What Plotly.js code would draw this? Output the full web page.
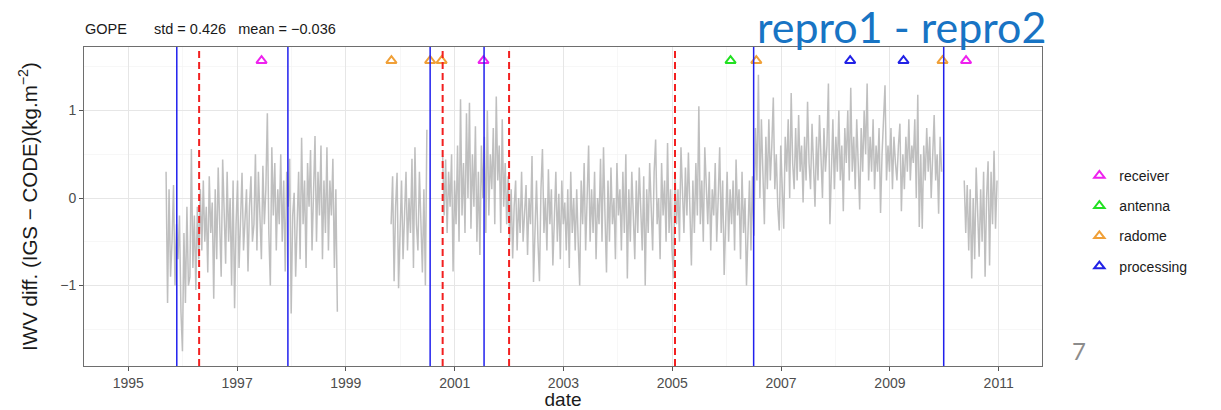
<!DOCTYPE html>
<html>
<head>
<meta charset="utf-8">
<script src="https://cdn.plot.ly/plotly-3.0.1.min.js"></script>
<style>html,body{margin:0;padding:0;background:#fff;}#chart{width:1221px;height:410px;}</style>
</head>
<body>
<div id="chart"></div>
<script>
// ---- data ----
const stepDays = 10;
const seg1Start = '1995-09-12';
const seg1Values = [0.3,-1.2,0.1,-0.9, -0.5,0.15,-1.0,-0.3, -0.7,-0.2,-1.3,-1.75,-0.4,-1.2,-0.1,-1.0,
 -0.9,0.56,-0.8,-0.2,-1.05,-0.1,-0.7, 0.1,-0.6,0.2,-0.5,-0.1,-0.85,0.25,-0.4,-0.05,-1.15,0.1,
 -0.7,0.35,-0.3,-0.9,0.44,-0.2,-0.75,0.3,-0.5,0.0,-1.0,0.2,-1.26,-0.3,
 0.2,-0.8,-0.1,0.29,-0.6,-0.2,0.1,-0.84,-0.1,0.25,-0.5,-0.3,0.5,
 -0.6,0.3,-0.2,-0.7,0.37,-0.3,0.1,0.97,-0.4,
 -1.0,0.58,-0.2,0.4,-0.6,0.1,-0.3,0.5,-0.5,0.2,-0.84,0.3,-0.1,0.45,
 -1.32,-0.2,0.06,-0.9,-0.4,0.3,-0.7,
 0.69,-0.3,0.2,-0.8,0.4,-0.1,0.55,-0.6,0.1,0.71,-0.5,0.3,-0.2,0.6,-0.7,0.2,
 -0.4,0.58,-0.6,0.2,-0.2,0.45,-0.8,0.1,-1.3];
const seg2aStart = '1999-11-01';
const seg2aValues = [-0.3,0.25,-0.95,-0.1,0.29,-1.03,-0.4,0.2,-0.7,-0.1,0.3,-0.6,0.0,-0.4,0.45,-0.8,0.58,-0.3,-0.6,0.3,-0.2,-0.85,0.1,-1.0,0.78];
const seg2bStart = '2000-10-12';
const seg2bValues = [
 0.48,-0.2,0.44,-0.4,0.3,-0.1,0.5,-0.84, 0.2,-0.3,0.6,-0.5,1.13,-0.2,0.4,-0.4,
 0.97,0.0,1.09,-0.35,0.5,-0.1,0.82,-0.5, 0.3,-0.65,0.6,0.0,0.7,-0.4,1.0,-0.2,
 0.5,0.1,0.8,-0.3,1.16,0.2,0.6,-0.4, 0.9,-0.1,0.4,-0.3,
 0.25,-0.5,0.1,-0.69,-0.1,0.2,-0.6,0.0,-0.4,0.3,-0.5,-0.1,0.15,-0.65,0.0,-0.3,
 0.48,-0.96,-0.2,0.2,-0.5,-0.95,0.1,0.56,-0.4,
 0.0,-0.6,0.33,-0.3,0.1,-0.77,-0.1,0.3,-0.5,0.05,-0.7,0.2,-0.3,-0.05,-0.6,0.1,
 -0.8,0.3,-0.4,0.0,-0.6,0.1,-0.5,-1.0,0.2,-0.3,0.4,-0.6,0.0,0.6,-0.5,0.1,
 -0.4,0.3,-0.7,0.0,-0.3,0.45,-0.5,0.58,-0.2,-0.85,0.2,-0.5,0.35,-0.3,0.0,-0.7,0.4,-0.2,0.1,-0.6,
 0.3,-0.4,0.5,-0.92,0.1,-0.5,0.3,-0.2,-0.7,0.2,-0.4,0.35,-0.1,-0.6,0.25,
 -1.0,0.1,-0.4,0.4,-0.2,-0.6,0.3,0.67,-0.3,0.0,-0.7,0.4,-0.2,0.2,-0.5,0.63,-0.4,0.1,-0.6,-0.92,
 0.3,-0.3,0.1,-0.5,0.58,0.0,-0.4,0.35,-0.2,0.52,
 -0.1,-0.77,0.2,-0.4,0.4,-0.2,1.05,-0.3,0.2,-0.5,
 0.58,0.0,-0.3,0.3,-0.6,0.1,-0.2,0.4,-0.5,0.0,
 0.58,-0.4,0.2,-0.88,-0.1,0.3,-0.5,0.1,-0.3,0.2,
 -0.6,0.44,-0.2,0.1,-0.7,0.3,-0.4,0.0,-1.0,-0.3,0.2,-0.6,0.25,
 -0.43,0.8,0.2,1.41,0.0,0.9,0.3,-0.3,0.7,0.1,
 0.9,0.2,0.6,1.15,0.1,0.5,-0.1,-0.37,0.6,0.2,
 -0.35,0.7,0.3,0.9,0.0,1.2,0.4,0.1,0.8,0.2,
 0.95,0.3,0.6,-0.05,0.7,0.2,1.1,0.4,0.1,0.85,
 0.3,-0.1,0.7,0.2,0.95,0.5,0.0,0.8,0.3,0.6,
 1.31,-0.3,0.5,0.9,0.1,0.7,0.3,1.0,0.2,0.6,
 -0.15,0.8,0.4,1.0,0.2,1.26,0.3,0.7,0.1,0.9,
 0.4,-0.13,0.8,0.3,1.0,0.5,1.31,0.2,0.7,0.3,
 0.9,0.1,0.6,0.3,0.8,-0.17,0.5,0.9,1.29,0.2,
 0.6,0.3,0.8,0.1,0.7,0.4,0.2,0.6,0.85,-0.15,
 0.5,0.1,0.7,0.3,0.9,0.2,0.6,0.4,0.9,0.0,
 1.18,-0.33,0.5,-0.35,0.6,0.2,0.8,0.3,0.7,0.0,
 0.6,0.95,0.2,0.5,-0.18,0.7,0.3];
const seg3Start = '2010-05-15';
const seg3Values = [0.2,-0.4,0.15,-0.6,0.1,-0.92,0.0,-0.7,0.35,-0.3,-0.67,0.1,-0.5,0.3,-0.9,0.0,0.42,-0.77,0.3,-0.3,0.54,-0.35,0.2];

const processingLines = ['1995-11-23','1997-12-08','2000-07-20','2001-07-17','2006-07-01','2009-12-28'];
const dashedLines = ['1996-04-21','2000-10-12','2002-01-01','2005-01-19'];
const receiverDates = ['1997-06-14','2001-07-13','2010-05-27'];
const antennaDates = ['2006-01-27'];
const radomeDates = ['1999-11-03','2000-07-20','2000-10-05','2006-07-19','2009-12-20'];
const processingDates = ['2008-04-09','2009-04-02'];
const eventLevel = 1.57;
const xTickYears = ['1995','1997','1999','2001','2003','2005','2007','2009','2011'];
const yTickValues = [-1, 0, 1];
const titleStation = 'GOPE';
const titleStats = 'std = 0.426\u00A0\u00A0\u00A0mean = \u22120.036';

// ---- build ----
function datesFrom(start, n, step) {
  const t0 = Date.parse(start + 'T00:00:00Z');
  const out = [];
  for (let i = 0; i < n; i++) out.push(new Date(t0 + i * step * 86400000).toISOString().slice(0, 10));
  return out;
}
const segs = [[seg1Start, seg1Values], [seg2aStart, seg2aValues], [seg2bStart, seg2bValues], [seg3Start, seg3Values]];
let sx = [], sy = [];
segs.forEach(([s, v], k) => {
  if (k > 0) { sx.push(null); sy.push(null); }
  sx = sx.concat(datesFrom(s, v.length, stepDays));
  sy = sy.concat(v);
});

const FONT = 'Liberation Sans, Arial, Helvetica, sans-serif';
const traces = [{
  x: sx, y: sy, type: 'scatter', mode: 'lines', connectgaps: false,
  line: {color: 'rgba(180,180,180,0.85)', width: 1.5}, showlegend: false, hoverinfo: 'skip'
}];
const evts = [
  ['receiver', receiverDates, '#EE22EE'],
  ['antenna', antennaDates, '#22E022'],
  ['radome', radomeDates, '#F0A038'],
  ['processing', processingDates, '#2222E6']
];
evts.forEach(([name, d, c]) => traces.push({
  x: d, y: d.map(() => eventLevel), type: 'scatter', mode: 'markers', name: name, legendgroup: name,
  marker: {symbol: 'triangle-up-open', size: 9, color: c, line: {width: 2, color: c}}
}));

const shapes = [];
processingLines.forEach(d => shapes.push({type: 'line', xref: 'x', yref: 'paper', x0: d, x1: d, y0: 0, y1: 1,
  line: {color: '#2020EE', width: 1.5}}));
dashedLines.forEach(d => shapes.push({type: 'line', xref: 'x', yref: 'paper', x0: d, x1: d, y0: 0, y1: 1,
  line: {color: '#F22020', width: 2, dash: '7px,4px'}}));

const layout = {
  width: 1221, height: 410,
  margin: {l: 84, r: 179, t: 47, b: 44},
  paper_bgcolor: '#fff', plot_bgcolor: '#fff',
  font: {family: FONT, color: '#1a1a1a'},
  showlegend: true,
  legend: {x: 1.039, xanchor: 'left', y: 0.455, yanchor: 'middle', font: {size: 14, family: FONT, color: '#1a1a1a'},
    traceorder: 'grouped', tracegroupgap: 9, bgcolor: 'rgba(0,0,0,0)'},
  xaxis: {
    type: 'date', range: ['1994-03-10', '2011-10-19'],
    tickmode: 'array', tickvals: xTickYears.map(y => y + '-01-01'), ticktext: xTickYears,
    ticks: 'outside', ticklen: 4, tickcolor: '#555', tickfont: {size: 14, color: '#4D4D4D', family: FONT},
    showgrid: true, gridcolor: '#E6E6E6', gridwidth: 1,
    minor: {dtick: 'M12', tick0: '1996-01-01', showgrid: true, gridcolor: '#F2F2F2', gridwidth: 0.6, ticks: ''},
    showline: true, linecolor: '#6E6E6E', linewidth: 1, mirror: true, zeroline: false,
    title: {text: 'date', font: {size: 19, color: '#1a1a1a', family: FONT}, standoff: 4}
  },
  yaxis: {
    range: [-1.919, 1.726],
    tickmode: 'array', tickvals: yTickValues, ticktext: yTickValues.map(v => v < 0 ? '\u2212' + Math.abs(v) : String(v)),
    ticks: 'outside', ticklen: 4, tickcolor: '#555', tickfont: {size: 14, color: '#4D4D4D', family: FONT},
    showgrid: true, gridcolor: '#E6E6E6', gridwidth: 1,
    minor: {tickmode: 'array', tickvals: [-1.5, -0.5, 0.5, 1.5], showgrid: true, gridcolor: '#F2F2F2', gridwidth: 0.6, ticks: ''},
    showline: true, linecolor: '#6E6E6E', linewidth: 1, mirror: true, zeroline: false,
    title: {text: 'IWV diff. (IGS \u2212 CODE)(kg.m<sup>\u22122</sup>)', font: {size: 20.5, color: '#1a1a1a', family: FONT}, standoff: 17}
  },
  shapes: shapes,
  annotations: [
    {text: titleStation, xref: 'paper', yref: 'paper', x: -0.001, y: 1.056, xanchor: 'left', yanchor: 'middle', showarrow: false,
      font: {size: 14.5, color: '#1a1a1a', family: FONT}},
    {text: titleStats, xref: 'paper', yref: 'paper', x: 0.0705, y: 1.056, xanchor: 'left', yanchor: 'middle', showarrow: false,
      font: {size: 14.5, color: '#1a1a1a', family: FONT}},
    {text: 'repro1 - repro2', xref: 'paper', yref: 'paper', x: 0.853, y: 1.147, xanchor: 'center', yanchor: 'top', borderpad: 0, showarrow: false,
      font: {size: 43, color: '#1874C4', family: 'Lato, Open Sans, sans-serif'}},
    {text: '7', xref: 'paper', yref: 'paper', x: 1.0295, y: 0.05, xanchor: 'left', yanchor: 'middle', showarrow: false,
      font: {size: 24, color: '#8C8C8C', family: 'Lato, Open Sans, sans-serif'}}
  ]
};
Plotly.newPlot('chart', traces, layout, {displayModeBar: false, staticPlot: true});
</script>
</body>
</html>
